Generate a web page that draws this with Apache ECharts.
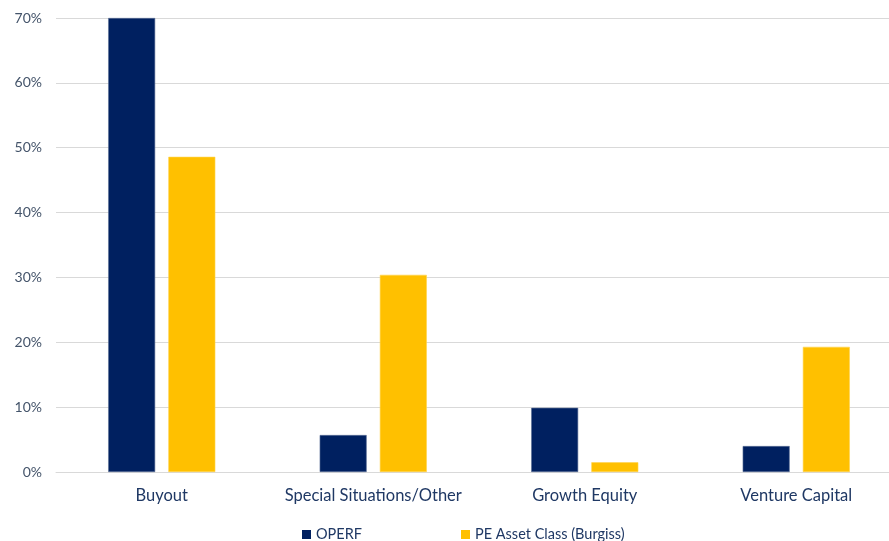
<!DOCTYPE html>
<html>
<head>
<meta charset="utf-8">
<script src="https://cdn.jsdelivr.net/npm/echarts@6/dist/echarts.min.js"></script>
<style>
html,body{margin:0;padding:0;background:#fff;overflow:hidden;}
/* the plot area runs slightly past the right edge of the window */
#chart{width:902px;height:541px;}
</style>
</head>
<body>
<div id="chart"></div>
<script>
// Private equity strategy allocation, percent of total
const categories = ['Buyout', 'Special Situations/Other', 'Growth Equity', 'Venture Capital'];
const operf = [70.0, 5.7, 9.9, 4.0];
const peAssetClass = [48.6, 30.4, 1.5, 19.3];
const seriesNames = ['OPERF', 'PE Asset Class (Burgiss)'];

const font = 'Lato, "Open Sans", sans-serif';
const chart = echarts.init(document.getElementById('chart'));
chart.setOption({
  animation: false,
  legend: {
    top: 522,
    left: 297,
    itemWidth: 9,
    itemHeight: 9,
    itemGap: 99,
    icon: 'rect',
    itemStyle: { borderWidth: 0 },
    textStyle: { fontFamily: font, fontSize: 14.5, color: '#1F3864' },
    data: seriesNames
  },
  grid: { left: 56, right: 0, top: 18, height: 454 },
  xAxis: {
    type: 'category',
    data: categories,
    axisLine: { lineStyle: { color: '#D9D9D9', width: 1 } },
    axisTick: { show: false },
    axisLabel: { interval: 0, fontFamily: font, fontSize: 16.5, color: '#1F3864', margin: 15 }
  },
  yAxis: {
    type: 'value',
    min: 0,
    max: 70,
    interval: 10,
    axisLine: { show: false },
    axisTick: { show: false },
    splitLine: { lineStyle: { color: '#D9D9D9', width: 1 } },
    axisLabel: { fontFamily: font, fontSize: 14, color: '#44546A', margin: 14, formatter: '{value}%' }
  },
  series: [
    {
      name: seriesNames[0],
      type: 'bar',
      data: operf,
      barWidth: 47,
      barGap: '28%',
      itemStyle: { color: '#002060', borderColor: '#5A6E96', borderWidth: 0.6 }
    },
    {
      name: seriesNames[1],
      type: 'bar',
      data: peAssetClass,
      barWidth: 47,
      itemStyle: { color: '#FFC000', borderColor: '#FFD34D', borderWidth: 0.6 }
    }
  ]
});
</script>
</body>
</html>
